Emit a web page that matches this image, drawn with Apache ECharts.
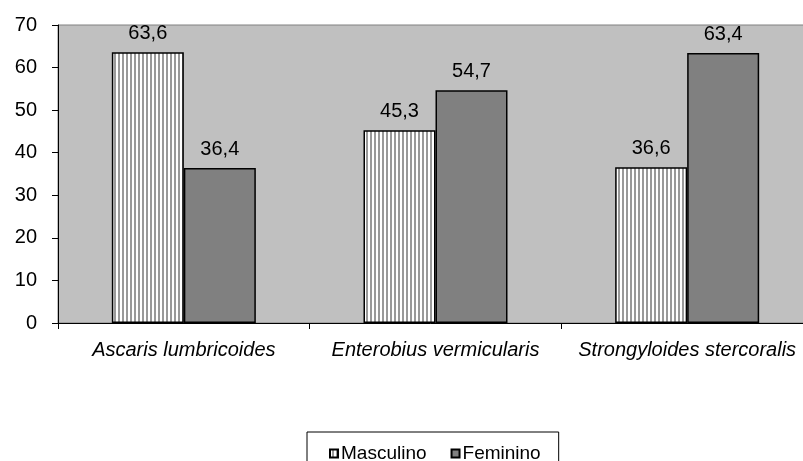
<!DOCTYPE html>
<html><head><meta charset="utf-8">
<script src="https://cdn.jsdelivr.net/npm/echarts@6/dist/echarts.min.js"></script>
<style>html,body{margin:0;padding:0;background:#fff}#c{width:803px;height:461px}</style>
</head><body><div id="c"></div>
<script>
const categories = ['Ascaris lumbricoides', 'Enterobius vermicularis', 'Strongyloides stercoralis'];
const masculino = [63.6, 45.3, 36.6];
const feminino = [36.4, 54.7, 63.4];
const seriesNames = ['Masculino', 'Feminino'];

const pc = document.createElement('canvas');
pc.width = 4; pc.height = 4;
const px = pc.getContext('2d');
px.fillStyle = '#ffffff'; px.fillRect(0, 0, 4, 4);
px.fillStyle = '#999999'; px.fillRect(2, 0, 2, 4);

const font = 'Liberation Sans, Arial, sans-serif';
const fmt = p => String(p.value).replace('.', ',');

const chart = echarts.init(document.getElementById('c'), null, {renderer: 'canvas'});
chart.setOption({
  animation: false,
  backgroundColor: '#ffffff',
  textStyle: {fontFamily: font, color: '#000'},
  grid: {left: 58, top: 25, width: 755, height: 298, show: true, backgroundColor: '#c0c0c0', borderColor: '#808080', borderWidth: 1, containLabel: false, outerBoundsMode: 'none'},
  legend: {
    left: 307, top: 432,
    data: seriesNames,
    icon: 'rect', itemWidth: 8, itemHeight: 8, itemGap: 24,
    borderColor: '#000', borderWidth: 1,
    padding: [12, 18, 12, 22],
    textStyle: {fontFamily: font, fontSize: 19, color: '#000', padding: [0, 0, 0, -2]}
  },
  xAxis: {
    type: 'category', data: categories,
    axisLine: {lineStyle: {color: '#000', width: 1}},
    axisTick: {show: true, length: 6, lineStyle: {color: '#000'}},
    axisLabel: {fontFamily: font, fontSize: 20, fontStyle: 'italic', color: '#000', margin: 17, interval: 0, hideOverlap: false}
  },
  yAxis: {
    type: 'value', min: 0, max: 70, interval: 10,
    axisLine: {show: true, lineStyle: {color: '#000', width: 1}},
    axisTick: {show: true, length: 6, lineStyle: {color: '#000'}},
    splitLine: {show: false},
    axisLabel: {fontFamily: font, fontSize: 20, color: '#000', margin: 21}
  },
  series: [
    {
      name: seriesNames[0], type: 'bar', data: masculino,
      barWidth: 72, barGap: '0%',
      itemStyle: {color: {image: pc, repeat: 'repeat'}, borderColor: '#000', borderWidth: 1.5},
      label: {show: true, position: 'top', distance: 9, formatter: fmt, fontFamily: font, fontSize: 20, color: '#000'}
    },
    {
      name: seriesNames[1], type: 'bar', data: feminino,
      barWidth: 72, barGap: '0%',
      itemStyle: {color: '#808080', borderColor: '#000', borderWidth: 1.5},
      label: {show: true, position: 'top', distance: 9, formatter: fmt, fontFamily: font, fontSize: 20, color: '#000'}
    }
  ]
});
</script>
</body></html>
